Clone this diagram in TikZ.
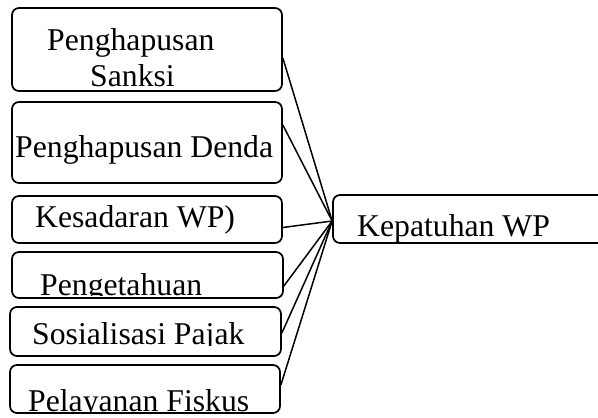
\documentclass[tikz,border=0pt]{standalone}
\usepackage{fontspec}
\setmainfont{Liberation Serif}
\begin{document}
\begin{tikzpicture}[x=1bp,y=-1bp,
  box/.style={draw=black,line width=1.7bp,rounded corners=7bp,inner sep=0pt},
  lbl/.style={anchor=base west,inner sep=0pt,font=\fontsize{31.7bp}{36bp}\selectfont},
  link/.style={draw=black,line width=1.5bp}]
\useasboundingbox (0,0) rectangle (598,417);
\clip (0,0) rectangle (598,417);
% boxes
\node[box,minimum width=270bp,minimum height=83bp] (b1) at (147,49.5) {};
\node[box,minimum width=270bp,minimum height=81bp] (b2) at (147,142.5) {};
\node[box,minimum width=270bp,minimum height=47bp] (b3) at (147,219.5) {};
\node[box,minimum width=271bp,minimum height=46bp] (b4) at (147.5,275) {};
\node[box,minimum width=271bp,minimum height=49bp] (b5) at (145.5,331.5) {};
\node[box,minimum width=270bp,minimum height=48bp] (b6) at (145,389) {};
\node[box,minimum width=287bp,minimum height=48bp] (k) at (476.5,219) {};
% texts
\node[lbl] (t1a) at (47,50) {Penghapusan};
\node[lbl] (t1b) at (90,86) {Sanksi};
\node[lbl] (t2) at (15,157) {Penghapusan Denda};
\node[lbl] (t3) at (35,227) {Kesadaran WP)};
\begin{scope}
\clip (12,252) rectangle (283,295.5);
\node[lbl] (t4) at (40,295) {Pengetahuan};
\end{scope}
\begin{scope}
\clip (10,307) rectangle (281,345);
\node[lbl] (t5) at (32,344) {Sosialisasi Pajak};
\end{scope}
\begin{scope}
\clip (10,365) rectangle (280,411.5);
\node[lbl] (t6) at (28,411) {Pelayanan Fiskus};
\end{scope}
\node[lbl] (tk) at (357,236) {Kepatuhan WP};
% connectors
\coordinate (kin) at ([yshift=-2bp]k.west);
\draw[link] ([yshift=-8.5bp]b1.east) -- (kin);
\draw[link] ([yshift=17.5bp]b2.east) -- (kin);
\draw[link] ([yshift=-8bp]b3.east) -- (kin);
\draw[link] ([yshift=-11bp]b4.east) -- (kin);
\draw[link] ([yshift=-1.5bp]b5.east) -- (kin);
\draw[link] ([yshift=4bp]b6.east) -- (kin);
\end{tikzpicture}
\end{document}
